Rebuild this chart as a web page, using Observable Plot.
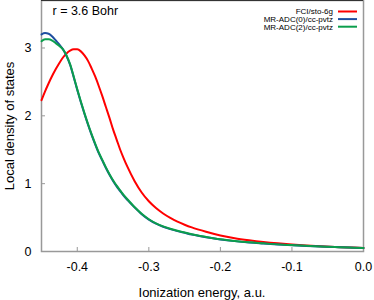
<!DOCTYPE html>
<html>
<head>
<meta charset="utf-8">
<script src="https://cdn.jsdelivr.net/npm/d3@7"></script>
<script src="https://cdn.jsdelivr.net/npm/@observablehq/plot@0.6"></script>
<style>
  html, body { margin: 0; padding: 0; background: white; }
  #chart { width: 374px; height: 300px; }
</style>
</head>
<body>
<div id="chart"></div>
<script>
// Ionization energy grid (a.u.)
const energy = [-0.45,-0.445,-0.44,-0.435,-0.43,-0.425,-0.42,-0.415,-0.41,-0.405,-0.40,-0.395,-0.39,-0.385,-0.38,-0.375,-0.37,-0.365,-0.36,-0.355,-0.35,-0.345,-0.34,-0.335,-0.33,
  -0.32,-0.31,-0.30,-0.29,-0.28,-0.27,-0.26,-0.25,-0.24,
  -0.22,-0.20,-0.18,-0.16,-0.14,-0.12,-0.10,-0.08,-0.06,-0.04,-0.02,0];

// FCI/sto-6g
const fci = [2.23,2.36,2.48,2.59,2.69,2.78,2.86,2.92,2.96,2.98,2.98,2.95,2.89,2.81,2.70,2.58,2.44,2.29,2.13,1.97,1.80,1.65,1.50,1.37,1.25,
  1.04,0.87,0.74,0.64,0.56,0.495,0.44,0.395,0.355,
  0.29,0.235,0.195,0.165,0.14,0.12,0.104,0.09,0.078,0.068,0.06,0.053];

// MR-ADC(0)/cc-pvtz
const adc0 = [3.20,3.22,3.21,3.17,3.11,3.05,2.98,2.88,2.75,2.57,2.38,2.20,2.03,1.87,1.72,1.58,1.45,1.34,1.23,1.13,1.04,0.96,0.89,0.82,0.76,
  0.65,0.55,0.47,0.41,0.365,0.33,0.30,0.275,0.25,
  0.21,0.178,0.153,0.133,0.118,0.104,0.093,0.082,0.073,0.065,0.058,0.052];

// MR-ADC(2)/cc-pvtz
const adc2 = [3.10,3.13,3.13,3.11,3.07,3.03,2.98,2.89,2.76,2.58,2.39,2.21,2.04,1.88,1.73,1.59,1.46,1.35,1.24,1.14,1.05,0.97,0.90,0.83,0.77,
  0.655,0.555,0.475,0.415,0.37,0.335,0.305,0.28,0.255,
  0.215,0.18,0.155,0.135,0.12,0.105,0.094,0.083,0.074,0.066,0.059,0.053];

const seriesNames = ["FCI/sto-6g", "MR-ADC(0)/cc-pvtz", "MR-ADC(2)/cc-pvtz"];
const seriesColors = ["#ff0000", "#1f4fa0", "#0b9e4c"];
const xTicks = [-0.4, -0.3, -0.2, -0.1, 0];
const yTicks = [0, 1, 2, 3];
const xDomain = [-0.45, 0];
const yDomain = [0, 3.7];
const annotation = "r = 3.6 Bohr";
const xLabel = "Ionization energy, a.u.";
const yLabel = "Local density of states";

const seriesValues = [fci, adc0, adc2];
const rows = seriesValues.flatMap((vals, s) =>
  energy.map((e, i) => ({series: seriesNames[s], x: e, y: vals[i]})));

const font = "'Liberation Sans', Arial, Helvetica, sans-serif";

const chart = Plot.plot({
  width: 374,
  height: 300,
  marginLeft: 41,
  marginRight: 11,
  marginTop: 0,
  marginBottom: 49,
  style: {fontFamily: font, background: "white", color: "black"},
  x: {domain: xDomain},
  y: {domain: yDomain},
  color: {domain: seriesNames, range: seriesColors},
  marks: [
    Plot.frame({stroke: "#999", strokeWidth: 1.5}),
    Plot.ruleY([yDomain[1]], {stroke: "#333", strokeWidth: 1}),
    Plot.axisX({ticks: xTicks, tickSize: -4, tickPadding: 15, stroke: "#999", fontSize: 12.5,
      tickFormat: d => d.toFixed(1), label: null}),
    Plot.axisY({ticks: yTicks, tickSize: -4, tickPadding: 14, stroke: "#999", fontSize: 12.5,
      tickFormat: d => String(d), label: null}),
    Plot.line(rows, {x: "x", y: "y", z: "series", stroke: "series", strokeWidth: 2, curve: "monotone-x"}),
    Plot.text([annotation], {frameAnchor: "top-left", dx: 11, dy: 6, textAnchor: "start", lineAnchor: "top", fontSize: 12.5})
  ]
});

const svg = d3.select(chart);
// Legend
const leg = svg.append("g").attr("font-family", font).attr("font-size", 8);
seriesNames.forEach((name, i) => {
  const yy = 11.5 + i * 7.6;
  leg.append("text").attr("x", 333).attr("y", yy).attr("dy", "0.35em")
    .attr("text-anchor", "end").text(name);
  leg.append("line").attr("x1", 338).attr("x2", 357).attr("y1", yy).attr("y2", yy)
    .attr("stroke", seriesColors[i]).attr("stroke-width", 2);
});
// Axis titles
svg.append("text").attr("x", 202).attr("y", 292).attr("dy", "0.35em")
  .attr("text-anchor", "middle").attr("font-family", font).attr("font-size", 13).text(xLabel);
svg.append("text").attr("transform", "translate(9,126) rotate(-90)").attr("dy", "0.35em")
  .attr("text-anchor", "middle").attr("font-family", font).attr("font-size", 13).text(yLabel);

document.getElementById("chart").appendChild(chart);
</script>
</body>
</html>
